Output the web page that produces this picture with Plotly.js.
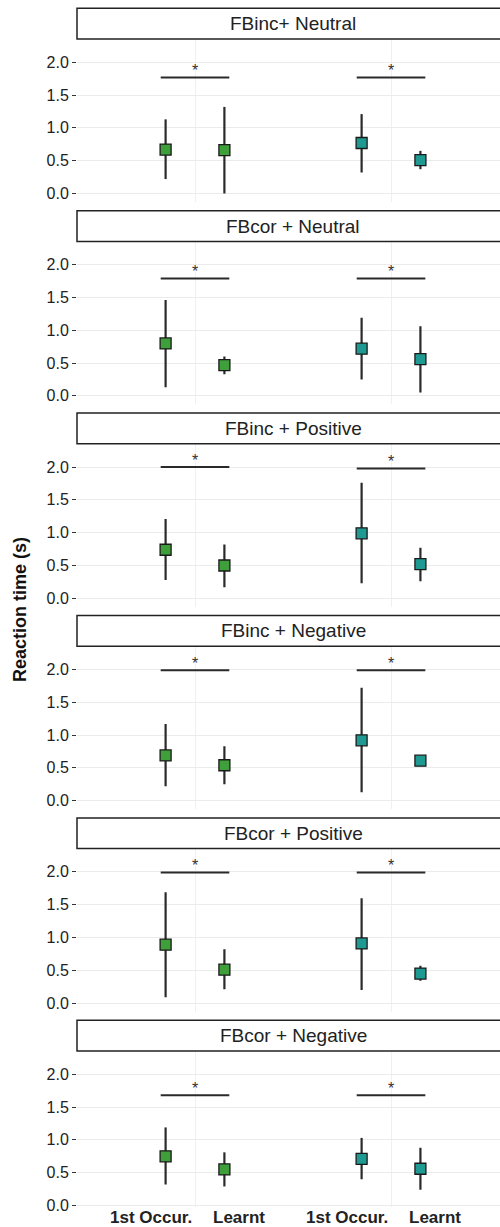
<!DOCTYPE html>
<html><head><meta charset="utf-8">
<script src="https://cdn.plot.ly/plotly-3.0.1.min.js"></script>
<style>html,body{margin:0;padding:0;background:#fff;overflow:hidden}</style>
</head><body><div id="chart" style="width:500px;height:1227px"></div>
<script>
const panelTitles = ["FBinc+ Neutral","FBcor + Neutral","FBinc + Positive","FBinc + Negative","FBcor + Positive","FBcor + Negative"];
const phaseLabels = ["1st Occur.","Learnt"];
const yTickVals = [0,0.5,1,1.5,2];
const yTickText = ["0.0","0.5","1.0","1.5","2.0"];
// [1st Occur., Learnt] per panel
const greenMean = [[0.67,0.66],[0.80,0.47],[0.74,0.50],[0.69,0.54],[0.89,0.51],[0.75,0.55]];
const greenLow  = [[0.22,0.00],[0.13,0.33],[0.28,0.17],[0.22,0.25],[0.09,0.21],[0.32,0.29]];
const greenHigh = [[1.13,1.32],[1.46,0.60],[1.21,0.82],[1.17,0.83],[1.69,0.82],[1.19,0.81]];
const tealMean  = [[0.77,0.51],[0.72,0.56],[0.99,0.52],[0.92,0.61],[0.91,0.45],[0.71,0.56]];
const tealLow   = [[0.32,0.37],[0.25,0.05],[0.23,0.26],[0.13,0.57],[0.20,0.34],[0.40,0.24]];
const tealHigh  = [[1.21,0.65],[1.19,1.06],[1.76,0.77],[1.72,0.65],[1.60,0.57],[1.03,0.88]];
const sigGreen  = [1.77,1.79,2.00,1.99,1.99,1.68];
const sigTeal   = [1.77,1.79,1.98,1.99,1.99,1.68];
const sigLabel = "*";

const H = 1227;
const FONT = "Liberation Sans, Arial, Helvetica, sans-serif";
const stride = 202.4, firstTop = 39, stripH = 30.7, panelH = 163, pxPerUnit = 65.6, yTop = 2.355;
const groupCenters = [1,2];
const dodge = 0.15, sigHalf = 0.175;
const groups = [
  {mean: greenMean, low: greenLow, high: greenHigh, sig: sigGreen, color: "#3f9f3b"},
  {mean: tealMean, low: tealLow, high: tealHigh, sig: sigTeal, color: "#1f9a92"}
];
const py = px => 1 - px / H;

const data = [];
const layout = {
  width: 500, height: H,
  margin: {l: 77, r: 0, t: 0, b: 0},
  paper_bgcolor: "#fff", plot_bgcolor: "#fff",
  showlegend: false,
  font: {family: FONT, color: "#222"},
  shapes: [], annotations: []
};

panelTitles.forEach((title, i) => {
  const s = i === 0 ? "" : String(i + 1);
  const top = firstTop + i * stride;
  let bottom = top + panelH;
  if (i === panelTitles.length - 1) bottom = Math.min(bottom, 1207);
  const yBottom = yTop - (bottom - top) / pxPerUnit;

  layout["xaxis" + s] = {
    domain: [0, 1], range: [0.398, 2.556], anchor: "y" + s,
    tickvals: groupCenters, showticklabels: false, ticks: "",
    showgrid: true, gridcolor: "#f0f0f0", gridwidth: 1,
    zeroline: false, showline: false, fixedrange: true
  };
  layout["yaxis" + s] = {
    domain: [py(bottom), py(top)], range: [yBottom, yTop], anchor: "x" + s,
    tickvals: yTickVals, ticktext: yTickText,
    ticks: "outside", ticklen: 4, tickwidth: 1, tickcolor: "#333",
    tickfont: {size: 16, color: "#222", family: FONT},
    showgrid: true, gridcolor: "#ebebeb", gridwidth: 1,
    zeroline: false, showline: false, fixedrange: true
  };

  groups.forEach((g, gi) => {
    const c = groupCenters[gi];
    const m = g.mean[i];
    data.push({
      type: "scatter", mode: "markers",
      x: [c - dodge, c + dodge], y: m,
      xaxis: "x" + s, yaxis: "y" + s,
      error_y: {type: "data", symmetric: false,
        array: m.map((v, k) => g.high[i][k] - v),
        arrayminus: m.map((v, k) => v - g.low[i][k]),
        width: 0, thickness: 2.2, color: "#2a2a2a"},
      marker: {symbol: "square", size: 11, color: g.color, line: {color: "#1a1a1a", width: 1.3}},
      hoverinfo: "skip"
    });
    data.push({
      type: "scatter", mode: "lines",
      x: [c - sigHalf, c + sigHalf], y: [g.sig[i], g.sig[i]],
      xaxis: "x" + s, yaxis: "y" + s,
      line: {color: "#2a2a2a", width: 2}, hoverinfo: "skip"
    });
    data.push({
      type: "scatter", mode: "text",
      x: [c], y: [g.sig[i] + 0.08], text: [sigLabel],
      textposition: "middle center",
      textfont: {size: 16, color: "#333", family: FONT},
      xaxis: "x" + s, yaxis: "y" + s, hoverinfo: "skip"
    });
  });

  // strip header
  const sTop = top - stripH, sBot = top;
  layout.shapes.push({
    type: "rect", xref: "paper", yref: "paper",
    x0: 0, x1: 1.2, y0: py(sBot), y1: py(sTop),
    line: {color: "#222", width: 1.5}, fillcolor: "#fff", layer: "above"
  });
  layout.annotations.push({
    xref: "x" + s, yref: "paper",
    x: (groupCenters[0] + groupCenters[1]) / 2, y: py((sTop + sBot) / 2),
    text: title, showarrow: false, xanchor: "center", yanchor: "middle",
    font: {size: 19, color: "#222", family: FONT}
  });

  if (i === panelTitles.length - 1) {
    groupCenters.forEach(c => {
      phaseLabels.forEach((lab, k) => {
        layout.annotations.push({
          xref: "x" + s, yref: "paper",
          x: c + (k === 0 ? -1 : 1) * 0.225, y: py(1217),
          text: "<b>" + lab + "</b>", showarrow: false,
          xanchor: "center", yanchor: "middle",
          font: {size: 17, color: "#222", family: FONT}
        });
      });
    });
  }
});

layout.annotations.push({
  xref: "paper", yref: "paper", x: (20 - 77) / 423, y: py(610),
  text: "<b>Reaction time (s)</b>", textangle: -90, showarrow: false,
  xanchor: "center", yanchor: "middle",
  font: {size: 18, color: "#111", family: FONT}
});

Plotly.newPlot("chart", data, layout, {staticPlot: true, displayModeBar: false});
</script></body></html>
